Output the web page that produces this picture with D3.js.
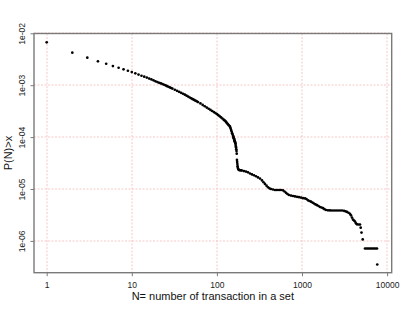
<!DOCTYPE html>
<html><head><meta charset="utf-8">
<script src="https://cdn.jsdelivr.net/npm/d3@7"></script>
<style>
body{margin:0;background:#fff;}
svg{display:block;font-family:"Liberation Sans",Arial,Helvetica,sans-serif;}
</style>
</head><body>
<svg id="chart" width="409" height="316"></svg>
<script>
// ---- data ----
const transactionCounts = [
  1,2,3,4,5,6,7,8,9,10,11,12,
  13,14,15,16,17,18,19,20,21,22,23,24,
  25,26,27,28,29,30,
  32,34,36,38,40,42,44,46,48,50,52,54,56,58,60,
  64,68,72,76,80,84,88,92,96,100,104,108,112,116,120,
  123,126,129,132,135,138,141,143,145,147,149,151,153,155,
  156,157,158,159,160,161,162,163,164,165,
  166,167,168,169,170,171,172,173,174,175,176,
  178,180,184,188,192,
  197,208,220,232,245,258,273,288,304,321,339,353,367,383,399,415,432,
  456,482,508,537,566,598,623,649,675,703,743,784,827,874,922,973,
  1027,1085,1129,1176,1225,1276,1329,1384,1441,1501,1563,1628,1695,1766,1838,1914,
  2021,2133,2252,2377,2509,2649,2796,2951,3115,3245,3380,3519,3664,3766,3869,3976,
  4083,4196,4310,4429,4613,4804,4896,5003,5169,
  5501,5728,5965,6213,6469,6738,7015,7307,7609,
  7660
];
const probabilities = [
  6.71e-3,4.23e-3,3.39e-3,2.88e-3,2.59e-3,2.34e-3,2.17e-3,2.02e-3,1.90e-3,1.79e-3,1.69e-3,1.60e-3,
  1.52e-3,1.46e-3,1.40e-3,1.34e-3,1.29e-3,1.24e-3,1.19e-3,1.15e-3,1.11e-3,1.08e-3,1.05e-3,1.02e-3,
  9.89e-4,9.59e-4,9.33e-4,9.06e-4,8.83e-4,8.59e-4,
  8.17e-4,7.80e-4,7.45e-4,7.14e-4,6.85e-4,6.56e-4,6.28e-4,6.03e-4,5.79e-4,5.58e-4,5.38e-4,5.21e-4,5.04e-4,4.88e-4,4.72e-4,
  4.45e-4,4.16e-4,3.93e-4,3.71e-4,3.52e-4,3.34e-4,3.18e-4,3.03e-4,2.90e-4,2.78e-4,2.64e-4,2.51e-4,2.39e-4,2.28e-4,2.17e-4,
  2.10e-4,2.04e-4,1.94e-4,1.85e-4,1.77e-4,1.69e-4,1.63e-4,1.57e-4,1.47e-4,1.37e-4,1.28e-4,1.19e-4,1.12e-4,1.05e-4,
  1.02e-4,9.82e-5,9.46e-5,9.25e-5,8.91e-5,8.59e-5,8.28e-5,8.09e-5,7.80e-5,7.60e-5,
  7.06e-5,6.58e-5,6.27e-5,5.82e-5,5.37e-5,4.79e-5,3.63e-5,3.31e-5,3.02e-5,2.75e-5,2.57e-5,
  2.43e-5,2.34e-5,2.32e-5,2.30e-5,2.29e-5,
  2.27e-5,2.22e-5,2.17e-5,2.10e-5,1.99e-5,1.91e-5,1.84e-5,1.76e-5,1.67e-5,1.59e-5,1.46e-5,1.35e-5,1.25e-5,1.16e-5,1.08e-5,1.03e-5,1.00e-5,
  9.78e-6,9.56e-6,9.56e-6,9.56e-6,9.56e-6,9.44e-6,8.95e-6,8.45e-6,8.01e-6,7.66e-6,7.46e-6,7.33e-6,7.20e-6,7.07e-6,6.95e-6,6.83e-6,
  6.65e-6,6.59e-6,6.42e-6,6.06e-6,5.87e-6,5.69e-6,5.47e-6,5.26e-6,5.05e-6,4.87e-6,4.70e-6,4.50e-6,4.40e-6,4.27e-6,4.08e-6,3.94e-6,
  3.89e-6,3.87e-6,3.85e-6,3.85e-6,3.85e-6,3.85e-6,3.85e-6,3.85e-6,3.80e-6,3.72e-6,3.62e-6,3.49e-6,3.33e-6,3.11e-6,2.82e-6,2.58e-6,
  2.47e-6,2.36e-6,2.18e-6,2.09e-6,2.07e-6,2.07e-6,1.80e-6,1.45e-6,1.07e-6,
  7.14e-7,7.14e-7,7.14e-7,7.14e-7,7.14e-7,7.14e-7,7.14e-7,7.14e-7,7.14e-7,
  3.51e-7
];
const xTickValues = [1, 10, 100, 1000, 10000];
const xTickLabels = ["1", "10", "100", "1000", "10000"];
const yTickValues = [1e-2, 1e-3, 1e-4, 1e-5, 1e-6];
const yTickLabels = ["1e-02", "1e-03", "1e-04", "1e-05", "1e-06"];
const xTitle = "N= number of transaction in a set";
const yTitle = "P(N)>x";

if (transactionCounts.length !== probabilities.length) {
  console.error("length mismatch", transactionCounts.length, probabilities.length);
}
const points = transactionCounts.map((n, i) => ({n, p: probabilities[i]}));

// ---- layout ----
const plot = {left: 34, right: 391.7, top: 33.5, bottom: 272.7};
const svg = d3.select("#chart");

const x = d3.scaleLog().domain([0.7092, 11325]).range([plot.left, plot.right]);
const y = d3.scaleLog().domain([9.91e-3, 2.44e-7]).range([plot.top, plot.bottom]);

// grid
const grid = svg.append("g").attr("stroke", "#f7c8c8").attr("stroke-width", 1)
  .attr("stroke-dasharray", "2,1.5").attr("fill", "none");
grid.selectAll("line.v").data(xTickValues).join("line").attr("class", "v")
  .attr("x1", d => Math.round(x(d))).attr("x2", d => Math.round(x(d)))
  .attr("y1", plot.top).attr("y2", plot.bottom);
grid.selectAll("line.h").data(yTickValues).join("line").attr("class", "h")
  .attr("y1", d => Math.round(y(d))).attr("y2", d => Math.round(y(d)))
  .attr("x1", plot.left).attr("x2", plot.right);

// points
svg.append("g").selectAll("circle").data(points).join("circle")
  .attr("cx", d => x(d.n)).attr("cy", d => y(d.p)).attr("r", 1.35).attr("fill", "#000");

// box
svg.append("rect").attr("x", plot.left).attr("y", plot.top)
  .attr("width", plot.right - plot.left).attr("height", plot.bottom - plot.top)
  .attr("fill", "none").attr("stroke", "#7a7a7a").attr("stroke-width", 1.4);

// x axis
const xAxis = svg.append("g").attr("transform", `translate(0,${plot.bottom})`)
  .call(d3.axisBottom(x).tickValues(xTickValues).tickFormat((d, i) => xTickLabels[i]).tickSize(3.5));
xAxis.select(".domain").remove();
xAxis.selectAll("line").attr("stroke", "#7a7a7a");
xAxis.selectAll("text").attr("y", 15.8).attr("dy", 0)
  .attr("font-size", 8.5).attr("fill", "#222").attr("font-family", "Liberation Sans, Arial, sans-serif");

// y axis
const yAxis = svg.append("g").attr("transform", `translate(${plot.left},0)`)
  .call(d3.axisLeft(y).tickValues(yTickValues).tickFormat((d, i) => yTickLabels[i]).tickSize(3.5));
yAxis.select(".domain").remove();
yAxis.selectAll("line").attr("stroke", "#7a7a7a");
yAxis.selectAll("text").attr("x", 0).attr("y", -9).attr("dy", 0)
  .attr("text-anchor", "middle").attr("transform", "rotate(-90)")
  .attr("font-size", 8.5).attr("fill", "#222").attr("font-family", "Liberation Sans, Arial, sans-serif");

// titles
svg.append("text").attr("x", (plot.left + plot.right) / 2).attr("y", 300)
  .attr("text-anchor", "middle").attr("font-size", 11).attr("fill", "#111").text(xTitle);
svg.append("text").attr("transform", `translate(12,${(plot.top + plot.bottom) / 2}) rotate(-90)`)
  .attr("text-anchor", "middle").attr("font-size", 11).attr("fill", "#111").text(yTitle);
</script>
</body></html>
